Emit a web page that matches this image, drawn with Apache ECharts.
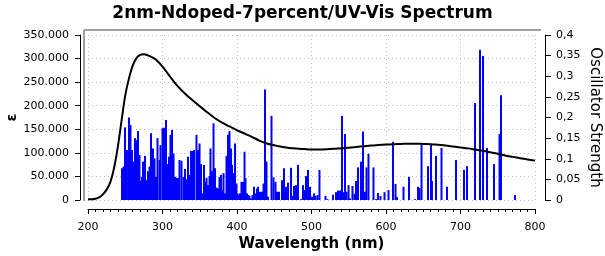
<!DOCTYPE html>
<html><head><meta charset="utf-8">
<script src="https://cdn.jsdelivr.net/npm/echarts@6/dist/echarts.min.js"></script>
<style>html,body{margin:0;padding:0;background:#fff}#c{width:605px;height:256px}</style>
</head><body><div id="c"></div>
<script>
var titleText = "2nm-Ndoped-7percent/UV-Vis Spectrum";
var xName = "Wavelength (nm)";
var yLeftName = "ε";
var yRightName = "Oscillator Strength";

var curveX = [200,205,210,215,220,225,230,235,240,245,250,255,260,265,270,275,280,290,300,310,320,330,340,350,360,370,380,390,400,410,420,430,440,450,460,470,480,490,500,510,520,530,540,550,560,570,580,590,600,610,620,630,640,650,660,670,680,690,700,710,720,730,740,750,760,770,780,790,800];
var curveEps = [1500,1500,2500,5500,12000,22000,38000,68000,112000,168000,222000,258000,285000,301000,308000,309000,307000,299000,283000,262000,242000,226000,212000,199000,186000,174000,164000,156000,148000,141000,134000,126000,120000,116000,113000,110500,109000,108000,107000,107000,107500,108500,110000,111000,112500,114000,115500,116500,117500,118500,119000,119500,119500,119000,118500,117000,115500,113500,111500,109500,107000,104500,101500,98000,94500,91500,88500,86000,83500];

var barX = [245.6,247.7,249.7,252.3,255.0,257.0,259.1,260.4,263.1,265.1,267.1,269.1,271.1,272.5,273.8,276.5,278.5,280.5,282.6,284.6,287.2,289.3,291.3,293.3,296.0,297.3,300.0,302.0,304.7,306.7,308.7,310.7,312.8,314.8,316.8,318.8,320.8,322.8,325.5,328.2,330.2,332.2,334.2,336.2,338.3,340.3,342.3,345.6,347.7,349.7,351.7,353.7,355.7,357.7,359.1,361.1,363.1,364.4,366.4,368.5,370.5,372.5,374.5,376.5,378.5,380.5,381.9,383.9,385.9,387.9,389.9,392.0,393.3,395.3,397.3,399.3,400.7,402.7,404.0,406.0,408.1,410.1,411.4,413.4,415.4,416.8,418.8,420.8,422.8,424.8,426.8,428.2,430.9,433.6,435.6,437.6,439.6,441.6,446.3,449.0,451.7,453.7,456.4,460.4,463.1,465.8,468.5,472.5,474.5,476.5,479.2,481.9,485.9,488.6,490.6,492.6,495.3,498.0,500.7,503.4,505.4,508.1,510.7,518.8,521.5,528.9,532.9,535.6,538.3,540.9,543.0,545.0,547.0,549.7,551.7,555.0,557.7,559.7,562.4,566.4,569.1,571.8,573.8,576.5,583.2,586.6,589.3,592.6,598.0,603.4,609.4,612.8,614.8,623.5,630.9,638.9,643.0,645.0,647.7,656.4,660.4,661.7,667.1,674.5,681.9,694.0,704.7,708.7,719.5,726.2,730.2,735.6,745.0,752.4,754.4,773.1];
var barF = [0.077,0.081,0.176,0.121,0.200,0.182,0.121,0.093,0.150,0.145,0.167,0.109,0.046,0.056,0.093,0.107,0.048,0.070,0.081,0.162,0.125,0.101,0.056,0.150,0.097,0.133,0.174,0.175,0.194,0.087,0.105,0.158,0.170,0.113,0.056,0.054,0.053,0.097,0.095,0.056,0.075,0.050,0.105,0.061,0.119,0.119,0.121,0.158,0.121,0.137,0.087,0.016,0.085,0.044,0.054,0.036,0.058,0.125,0.070,0.186,0.077,0.030,0.028,0.056,0.061,0.024,0.065,0.016,0.107,0.158,0.167,0.125,0.085,0.065,0.137,0.040,0.016,0.012,0.016,0.044,0.044,0.117,0.053,0.016,0.012,0.010,0.004,0.012,0.032,0.016,0.028,0.032,0.020,0.020,0.040,0.268,0.093,0.008,0.204,0.055,0.044,0.020,0.020,0.048,0.077,0.032,0.042,0.078,0.010,0.034,0.036,0.085,0.002,0.036,0.024,0.058,0.073,0.032,0.008,0.016,0.010,0.012,0.073,0.010,0.002,0.013,0.019,0.023,0.023,0.204,0.019,0.160,0.020,0.036,0.004,0.034,0.015,0.046,0.079,0.093,0.166,0.020,0.079,0.112,0.079,0.002,0.017,0.010,0.019,0.024,0.141,0.039,0.007,0.032,0.056,0.002,0.032,0.029,0.136,0.082,0.136,0.046,0.107,0.126,0.032,0.097,0.073,0.082,0.235,0.364,0.349,0.126,0.087,0.160,0.254,0.012];

var curveData = curveX.map(function(x,i){return [x, curveEps[i]];});
var barData = barX.map(function(x,i){return [x, barF[i]];});

var fontFam = "DejaVu Sans";
var chart = echarts.init(document.getElementById('c'), null, {renderer:'canvas'});
chart.setOption({
  animation:false,
  backgroundColor:'#fff',
  title:{text:titleText,left:'center',top:0,textStyle:{fontFamily:fontFam,fontSize:17,fontWeight:'bold',color:'#000'}},
  grid:{left:88,right:70,top:35,bottom:56,containLabel:false,outerBoundsMode:'none'},
  graphic:[
    {type:'line',shape:{x1:84,y1:30,x2:541,y2:30},style:{stroke:'#a0a0a0',lineWidth:2},z:0},
    {type:'line',shape:{x1:84,y1:30,x2:84,y2:201},style:{stroke:'#a0a0a0',lineWidth:2},z:0}
  ],
  xAxis:{type:'value',min:200,max:800,interval:100,offset:9,
    name:xName,nameLocation:'middle',nameGap:28,nameMoveOverlap:false,
    nameTextStyle:{fontFamily:fontFam,fontSize:15,fontWeight:'bold',color:'#000'},
    axisLine:{show:true,onZero:false,lineStyle:{color:'#000',width:1}},
    axisTick:{show:true,length:5,lineStyle:{color:'#000'}},
    minorTick:{show:true,splitNumber:10,length:3,lineStyle:{color:'#000'}},
    axisLabel:{margin:13,fontFamily:fontFam,fontSize:11,color:'#000'},
    splitLine:{show:true,lineStyle:{color:'#c0c0c0',type:[1,3],width:1}}
  },
  yAxis:[
    {type:'value',min:0,max:350000,interval:50000,position:'left',offset:8,
     name:yLeftName,nameLocation:'middle',nameGap:61,nameMoveOverlap:false,
     nameTextStyle:{fontFamily:fontFam,fontSize:14,fontWeight:'bold',color:'#000'},
     axisLine:{show:true,lineStyle:{color:'#000'}},
     axisTick:{show:true,length:5,lineStyle:{color:'#000'}},
     axisLabel:{margin:11,fontFamily:fontFam,fontSize:11,color:'#000',
       formatter:function(v){return String(v).replace(/\B(?=(\d{3})+(?!\d))/g,'.');}},
     splitLine:{show:true,lineStyle:{color:'#c0c0c0',type:[1,3],width:1}}
    },
    {type:'value',min:0,max:0.4,interval:0.05,position:'right',offset:10,
     name:yRightName,nameLocation:'middle',nameGap:42,nameRotate:-90,nameMoveOverlap:false,
     nameTextStyle:{fontFamily:fontFam,fontSize:15,color:'#000'},
     axisLine:{show:true,lineStyle:{color:'#000'}},
     axisTick:{show:true,length:6,lineStyle:{color:'#000'}},
     axisLabel:{margin:11,fontFamily:fontFam,fontSize:11,color:'#000',
       formatter:function(v){return (Math.round(v*100)/100).toString().replace('.',',');}},
     splitLine:{show:false}
    }
  ],
  series:[
    {type:'custom',yAxisIndex:1,data:barData,z:2,
     encode:{x:0,y:1},
     renderItem:function(params,api){
       var top = api.coord([api.value(0), api.value(1)]);
       var base = api.coord([api.value(0), 0]);
       return {type:'rect',shape:{x:top[0]-1,y:top[1],width:2,height:base[1]-top[1]},
               style:{fill:'#0000ff'}};
     }},
    {type:'line',yAxisIndex:0,data:curveData,smooth:0.3,showSymbol:false,symbol:'none',lineStyle:{color:'#000',width:2},z:3}
  ]
});
</script></body></html>
